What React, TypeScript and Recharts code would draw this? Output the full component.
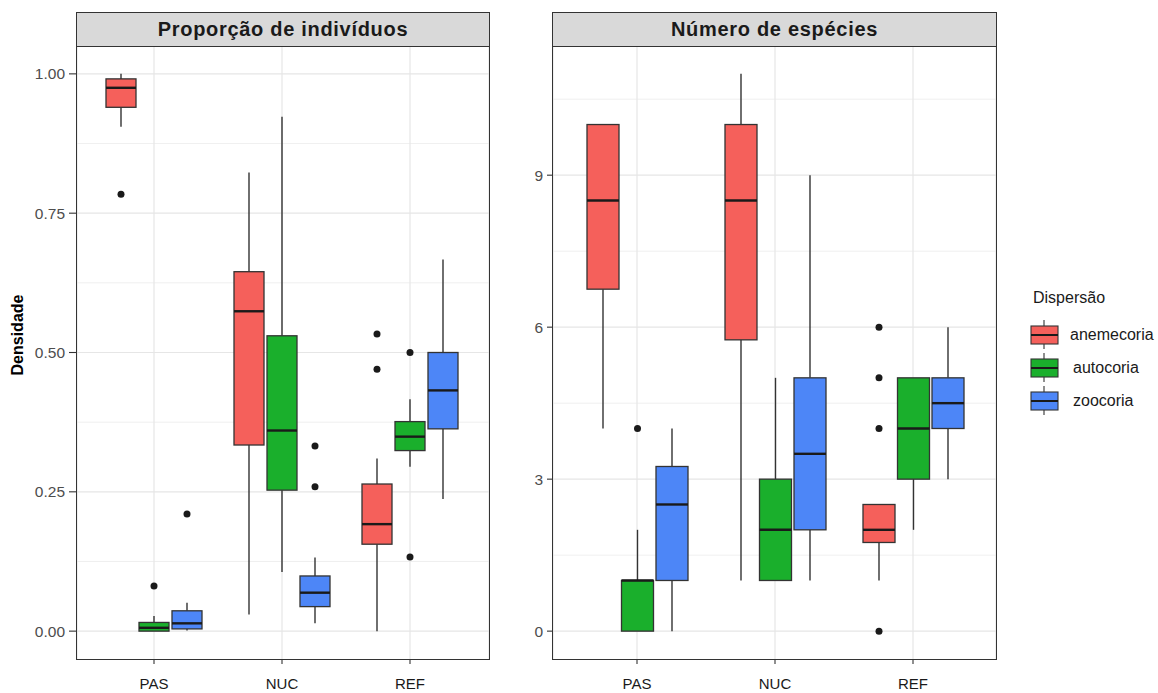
import React from "react";
import { BarChart, Bar, XAxis, YAxis, CartesianGrid } from "recharts";

// categories on the x axis and the three dispersal groups
const categories = ["PAS", "NUC", "REF"];
const groups = ["anemecoria", "autocoria", "zoocoria"];
const groupColors = ["#F5605B", "#1AAF2C", "#4D86F7"];

// Proporção de indivíduos: [whisker low, Q1, median, Q3, whisker high] per category
const propAnemecoria = [
  [0.905, 0.94, 0.975, 0.991, 1.0],
  [0.03, 0.334, 0.574, 0.645, 0.823],
  [0.0, 0.156, 0.192, 0.264, 0.31],
];
const propAnemecoriaOut = [[0.784], [], [0.533, 0.47]];
const propAutocoria = [
  [0.0, 0.0, 0.006, 0.0156, 0.027],
  [0.106, 0.253, 0.36, 0.53, 0.923],
  [0.295, 0.324, 0.349, 0.376, 0.416],
];
const propAutocoriaOut = [[0.081], [], [0.5, 0.133]];
const propZoocoria = [
  [0.001, 0.004, 0.014, 0.0365, 0.051],
  [0.014, 0.044, 0.069, 0.099, 0.132],
  [0.237, 0.363, 0.432, 0.5, 0.667],
];
const propZoocoriaOut = [[0.21], [0.332, 0.259], []];

// Número de espécies
const specAnemecoria = [
  [4, 6.75, 8.5, 10, 10],
  [1, 5.75, 8.5, 10, 11],
  [1, 1.75, 2, 2.5, 2.5],
];
const specAnemecoriaOut = [[], [], [6, 5, 4, 0]];
const specAutocoria = [
  [0, 0, 1, 1, 2],
  [1, 1, 2, 3, 5],
  [2, 3, 4, 5, 5],
];
const specAutocoriaOut = [[4], [], []];
const specZoocoria = [
  [0, 1, 2.5, 3.25, 4],
  [1, 2, 3.5, 5, 9],
  [3, 4, 4.5, 5, 6],
];
const specZoocoriaOut = [[], [], []];

// axis ticks
const propTicks = [0, 0.25, 0.5, 0.75, 1];
const propMinor = [0.125, 0.375, 0.625, 0.875];
const specTicks = [0, 3, 6, 9];
const specMinor = [1.5, 4.5, 7.5, 10.5];

type BoxStats = { s: number[]; out: number[] };
type Row = { cat: string; [k: string]: any };

const buildRows = (stats: number[][][], outs: number[][][]): Row[] =>
  categories.map((cat, i) => {
    const row: Row = { cat };
    groups.forEach((g, j) => {
      row[g] = { s: stats[j][i], out: outs[j][i] } as BoxStats;
    });
    return row;
  });

const propRows = buildRows(
  [propAnemecoria, propAutocoria, propZoocoria],
  [propAnemecoriaOut, propAutocoriaOut, propZoocoriaOut]
);
const specRows = buildRows(
  [specAnemecoria, specAutocoria, specZoocoria],
  [specAnemecoriaOut, specAutocoriaOut, specZoocoriaOut]
);

const extent = (b: BoxStats) => {
  const all = [...b.s, ...b.out];
  return [Math.min(...all), Math.max(...all)];
};

// the bar spans the full extent of the group; everything else is placed within it
const BoxShape = (props: any) => {
  const { x = 0, y = 0, width = 0, height = 0, payload, group, color } = props;
  const b: BoxStats = payload[group];
  const [lo, hi] = extent(b);
  const top = Math.min(y, y + height);
  const bottom = Math.max(y, y + height);
  const py = (v: number) => (hi === lo ? bottom : bottom - ((bottom - top) * (v - lo)) / (hi - lo));
  const [wLo, q1, med, q3, wHi] = b.s;
  const cx = x + width / 2;
  return (
    <g>
      <line x1={cx} x2={cx} y1={py(q3)} y2={py(wHi)} stroke="#333333" strokeWidth={1.4} />
      <line x1={cx} x2={cx} y1={py(q1)} y2={py(wLo)} stroke="#333333" strokeWidth={1.4} />
      <rect
        x={x}
        y={py(q3)}
        width={width}
        height={Math.max(py(q1) - py(q3), 0.5)}
        fill={color}
        stroke="#333333"
        strokeWidth={1.3}
      />
      <line x1={x} x2={x + width} y1={py(med)} y2={py(med)} stroke="#1a1a1a" strokeWidth={2.4} />
      {b.out.map((v, i) => (
        <circle key={i} cx={cx} cy={py(v)} r={3.5} fill="#1a1a1a" />
      ))}
    </g>
  );
};

type PanelProps = {
  title: string;
  rows: Row[];
  domain: [number, number];
  ticks: number[];
  minor: number[];
  fmt: (v: number) => string;
  left: number;
  width: number;
  marginLeft: number;
  marginRight: number;
  yWidth: number;
  yTick: number;
  pad: { left: number; right: number };
  barSize: number;
  barGap: number;
  titleSpacing: number;
};

const Panel = (p: PanelProps) => {
  const plotLeft = p.left + p.marginLeft + p.yWidth;
  const plotRight = p.left + p.width - p.marginRight;
  return (
    <>
      <div style={{ position: "absolute", left: p.left, top: 0 }}>
        <BarChart
          width={p.width}
          height={693}
          data={p.rows}
          barSize={p.barSize}
          barGap={p.barGap}
          margin={{ top: 46, right: p.marginRight, bottom: 0, left: p.marginLeft }}
        >
          <CartesianGrid stroke="#EBEBEB" strokeWidth={0.8} vertical={false} horizontalValues={p.minor} />
          <CartesianGrid stroke="#E6E6E6" strokeWidth={1.2} horizontalValues={p.ticks} />
          <XAxis
            dataKey="cat"
            height={34}
            padding={p.pad}
            axisLine={false}
            tickSize={5}
            tickMargin={14}
            tickLine={{ stroke: "#333333", strokeWidth: 1.1 }}
            tick={{ fill: "#1a1a1a", fontSize: 15, fontFamily: "Liberation Sans, Arial, sans-serif" }}
          />
          <YAxis
            type="number"
            domain={p.domain}
            allowDataOverflow
            ticks={p.ticks}
            tickFormatter={p.fmt}
            width={p.yWidth}
            axisLine={false}
            tickSize={p.yTick}
            tickMargin={4}
            tickLine={{ stroke: "#333333", strokeWidth: 1.1 }}
            tick={{ fill: "#4D4D4D", fontSize: 15.5, fontFamily: "Liberation Sans, Arial, sans-serif" }}
          />
          {groups.map((g, j) => (
            <Bar
              key={g}
              dataKey={(row: Row) => extent(row[g])}
              isAnimationActive={false}
              shape={(props: any) => <BoxShape {...props} group={g} color={groupColors[j]} />}
            />
          ))}
        </BarChart>
      </div>
      <div
        style={{
          position: "absolute",
          left: plotLeft - 1,
          top: 12,
          width: plotRight - plotLeft + 2,
          height: 659 - 12 + 1,
          boxSizing: "border-box",
          border: "1.6px solid #333333",
          pointerEvents: "none",
        }}
      >
        <div
          style={{
            height: 33,
            background: "#D9D9D9",
            borderBottom: "1.6px solid #333333",
            textAlign: "center",
            lineHeight: "33px",
            fontFamily: "Liberation Sans, Arial, sans-serif",
            fontWeight: "bold",
            fontSize: 20,
            letterSpacing: p.titleSpacing,
            color: "#1a1a1a",
          }}
        >
          {p.title}
        </div>
      </div>
    </>
  );
};

const LegendKey = ({ color, cy }: { color: string; cy: number }) => (
  <g>
    <line x1={14} x2={14} y1={cy - 15} y2={cy + 14} stroke="#333333" strokeWidth={1.1} />
    <rect x={1} y={cy - 9} width={27} height={18} fill={color} stroke="#333333" strokeWidth={1.1} />
    <line x1={1} x2={28} y1={cy} y2={cy} stroke="#1a1a1a" strokeWidth={2} />
  </g>
);

const App = () => {
  return (
    <div
      style={{
        position: "absolute",
        left: 0,
        top: 0,
        width: 1158,
        height: 693,
        background: "#ffffff",
        fontFamily: "Liberation Sans, Arial, sans-serif",
      }}
    >
      <Panel
        title="Proporção de indivíduos"
        rows={propRows}
        domain={[-0.05, 1.05]}
        ticks={propTicks}
        minor={propMinor}
        fmt={(v) => v.toFixed(2)}
        left={0}
        width={500}
        marginLeft={17}
        marginRight={11}
        yWidth={60}
        yTick={8}
        pad={{ left: 13, right: 15 }}
        barSize={30}
        barGap={3}
        titleSpacing={0.7}
      />
      <Panel
        title="Número de espécies"
        rows={specRows}
        domain={[-0.55, 11.55]}
        ticks={specTicks}
        minor={specMinor}
        fmt={(v) => String(v)}
        left={500}
        width={500}
        marginLeft={13}
        marginRight={4}
        yWidth={40}
        yTick={6}
        pad={{ left: 15, right: 14 }}
        barSize={32}
        barGap={2.5}
        titleSpacing={0.7}
      />

      <div
        style={{
          position: "absolute",
          left: 18,
          top: 335,
          transform: "translate(-50%, -50%) rotate(-90deg)",
          fontWeight: "bold",
          fontSize: 16,
          color: "#000000",
          whiteSpace: "nowrap",
        }}
      >
        Densidade
      </div>

      <div style={{ position: "absolute", left: 1030, top: 280, width: 128, height: 140 }}>
        <div style={{ position: "absolute", left: 3, top: 8, fontSize: 16, color: "#1a1a1a", lineHeight: "20px" }}>
          Dispersão
        </div>
        <svg width={30} height={140} style={{ position: "absolute", left: 0, top: 0 }}>
          {groups.map((g, j) => (
            <LegendKey key={g} color={groupColors[j]} cy={55 + j * 33} />
          ))}
        </svg>
        {groups.map((g, j) => (
          <div
            key={g}
            style={{
              position: "absolute",
              left: j === 0 ? 40 : 43,
              top: 55 + j * 33 - 10,
              fontSize: 16,
              lineHeight: "20px",
              color: "#1a1a1a",
            }}
          >
            {g}
          </div>
        ))}
      </div>
    </div>
  );
};

export default App;
